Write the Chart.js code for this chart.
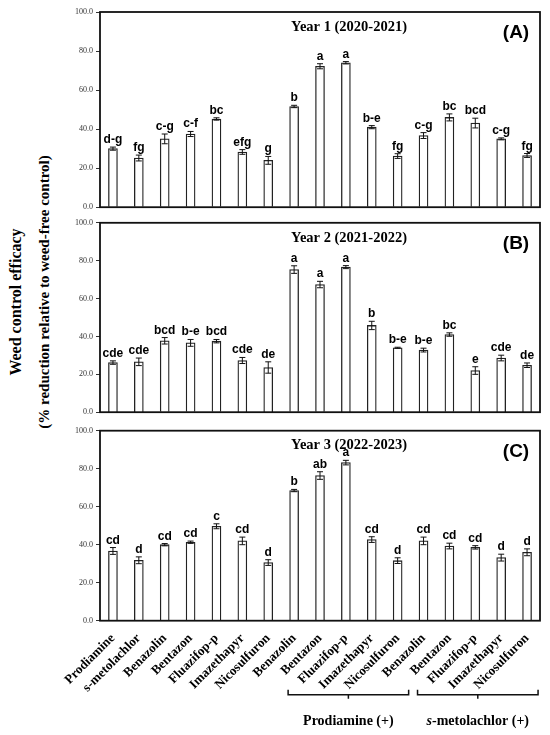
<!DOCTYPE html>
<html>
<head>
<meta charset="utf-8">
<script src="https://cdn.jsdelivr.net/npm/chart.js@4.4.1/dist/chart.umd.min.js"></script>
<style>
  html, body { margin: 0; padding: 0; background: #fff; }
  #wrap { position: relative; width: 550px; height: 735px; overflow: hidden; }
  .panel { position: absolute; left: 60px; width: 490px; }
  #yTitle {
    position: absolute; left: 30px; top: 300px; width: 0; height: 0;
  }
  #yTitle div {
    position: absolute; white-space: nowrap; transform: translate(-50%, -50%) rotate(-90deg);
    font-family: "Liberation Serif", "Times New Roman", serif; font-weight: bold; color: #000;
  }
</style>
</head>
<body>
<div id="wrap">
  <div id="yTitle">
    <div style="left:-14px; top:2px; font-size:16px;">Weed control efficacy</div>
    <div style="left:14px; top:-8px; font-size:15px;">(% reduction relative to weed-free control)</div>
  </div>
  <div class="panel" style="top:0; height:215px;"><canvas id="chartA"></canvas></div>
  <div class="panel" style="top:215px; height:205px;"><canvas id="chartB"></canvas></div>
  <div class="panel" style="top:420px; height:315px;"><canvas id="chartC"></canvas></div>
</div>
<script>
const herbicides = ['Prodiamine', 's-metolachlor', 'Benazolin', 'Bentazon', 'Fluazifop-p', 'Imazethapyr', 'Nicosulfuron',
  'Benazolin', 'Bentazon', 'Fluazifop-p', 'Imazethapyr', 'Nicosulfuron',
  'Benazolin', 'Bentazon', 'Fluazifop-p', 'Imazethapyr', 'Nicosulfuron'];
const yTicks = [0, 20, 40, 60, 80, 100];

// Year 1 (2020-2021)
const year1 = [30.0, 25.2, 35.0, 37.5, 45.2, 28.3, 24.0, 51.6, 72.2, 74.0, 41.0, 26.2, 36.7, 46.0, 43.1, 35.0, 26.5];
const year1Err = [0.8, 1.5, 2.5, 1.3, 0.6, 1.2, 2.0, 0.6, 1.3, 0.6, 0.8, 1.2, 1.5, 1.8, 2.5, 0.5, 1.0];
const year1Letters = ['d-g', 'fg', 'c-g', 'c-f', 'bc', 'efg', 'g', 'b', 'a', 'a', 'b-e', 'fg', 'c-g', 'bc', 'bcd', 'c-g', 'fg'];

// Year 2 (2021-2022)
const year2 = [26.2, 26.6, 37.7, 36.6, 37.5, 27.3, 23.6, 75.3, 67.4, 76.6, 45.8, 34.0, 32.8, 41.0, 22.0, 28.6, 24.8];
const year2Err = [0.9, 2.0, 1.7, 1.8, 0.9, 1.6, 3.0, 2.0, 1.7, 0.8, 2.2, 0.3, 1.0, 0.9, 2.0, 1.5, 1.2];
const year2Letters = ['cde', 'cde', 'bcd', 'b-e', 'bcd', 'cde', 'de', 'a', 'a', 'a', 'b', 'b-e', 'b-e', 'bc', 'e', 'cde', 'de'];

// Year 3 (2022-2023)
const year3 = [36.7, 31.8, 40.0, 41.3, 49.7, 42.0, 30.6, 68.5, 76.4, 83.2, 42.7, 31.6, 42.0, 39.3, 38.6, 33.2, 36.0];
const year3Err = [1.8, 1.8, 0.6, 0.6, 1.3, 2.0, 1.5, 0.6, 2.0, 1.2, 1.5, 1.5, 2.0, 1.5, 0.9, 1.8, 1.8];
const year3Letters = ['cd', 'd', 'cd', 'cd', 'c', 'cd', 'd', 'b', 'ab', 'a', 'cd', 'd', 'cd', 'cd', 'cd', 'd', 'd'];

// mixture groups: [first index, last index, label prefix (italic), label rest]
const groups = [
  { from: 7, to: 11, italic: '', text: 'Prodiamine (+)' },
  { from: 12, to: 16, italic: 's', text: '-metolachlor (+)' }
];

const serif = '"Liberation Serif", "Times New Roman", serif';
const sans = '"Liberation Sans", Arial, sans-serif';

// error bars, letters, frame and panel titles
const panelPlugin = {
  id: 'panelDecor',
  afterDatasetsDraw(chart) {
    const { ctx, chartArea: a, scales: { x, y } } = chart;
    const o = chart.options.plugins.panelDecor;
    ctx.save();
    ctx.strokeStyle = '#111';
    ctx.lineWidth = 1;
    o.values.forEach((v, i) => {
      const cx = x.getPixelForValue(i);
      const top = y.getPixelForValue(v + o.errors[i]);
      const bot = y.getPixelForValue(v - o.errors[i]);
      ctx.beginPath();
      ctx.moveTo(cx, top); ctx.lineTo(cx, bot);
      ctx.moveTo(cx - 3, top); ctx.lineTo(cx + 3, top);
      ctx.moveTo(cx - 3, bot); ctx.lineTo(cx + 3, bot);
      ctx.stroke();
      ctx.fillStyle = '#000';
      ctx.font = 'bold 12px ' + sans;
      ctx.textAlign = 'center';
      ctx.textBaseline = 'alphabetic';
      ctx.fillText(o.letters[i], cx, top - 4);
    });
    // frame
    ctx.lineWidth = 1.8;
    ctx.strokeStyle = '#111';
    ctx.strokeRect(a.left, a.top, a.right - a.left, a.bottom - a.top);
    // titles
    ctx.fillStyle = '#000';
    ctx.font = 'bold 14.5px ' + serif;
    ctx.textAlign = 'center';
    ctx.textBaseline = 'middle';
    ctx.fillText(o.title, 349 - 60, a.top + 15);
    ctx.font = 'bold 19px ' + sans;
    ctx.fillText(o.tag, 516 - 60, a.top + 21);
    ctx.restore();
  }
};

// brackets and mixture labels under the bottom panel
const groupPlugin = {
  id: 'groupDecor',
  afterDraw(chart) {
    if (!chart.options.plugins.groupDecor.show) return;
    const { ctx, chartArea: a, scales: { x } } = chart;
    ctx.save();
    ctx.strokeStyle = '#111';
    ctx.lineWidth = 1.5;
    const by = a.bottom + 74;
    groups.forEach(g => {
      const l = x.getPixelForValue(g.from) - 6;
      const r = x.getPixelForValue(g.to) + 11;
      const m = (l + r) / 2;
      ctx.beginPath();
      ctx.moveTo(l, by - 5); ctx.lineTo(l, by); ctx.lineTo(r, by); ctx.lineTo(r, by - 5);
      ctx.moveTo(m, by); ctx.lineTo(m, by + 4);
      ctx.stroke();
      ctx.fillStyle = '#000';
      ctx.textBaseline = 'middle';
      ctx.font = 'italic bold 14px ' + serif;
      const w1 = ctx.measureText(g.italic).width;
      ctx.font = 'bold 14px ' + serif;
      const w2 = ctx.measureText(g.text).width;
      let sx = m - (w1 + w2) / 2;
      const ty = a.bottom + 101;
      ctx.textAlign = 'left';
      if (g.italic) {
        ctx.font = 'italic bold 14px ' + serif;
        ctx.fillText(g.italic, sx, ty);
        sx += w1;
      }
      ctx.font = 'bold 14px ' + serif;
      ctx.fillText(g.text, sx, ty);
    });
    ctx.restore();
  }
};

function makePanel(id, values, errors, letters, title, tag, padTop, padBottom, bottomPanel) {
  return new Chart(document.getElementById(id), {
    type: 'bar',
    data: {
      labels: herbicides,
      datasets: [{
        data: values,
        backgroundColor: '#fff',
        borderColor: '#222',
        borderWidth: 1.3,
        barThickness: 9
      }]
    },
    options: {
      responsive: true,
      maintainAspectRatio: false,
      animation: false,
      layout: { padding: { top: padTop, bottom: padBottom, left: 0, right: 10 } },
      plugins: {
        legend: { display: false },
        tooltip: { enabled: false },
        panelDecor: { values, errors, letters, title, tag },
        groupDecor: { show: bottomPanel }
      },
      scales: {
        x: {
          display: bottomPanel,
          grid: { display: false },
          border: { display: false },
          ticks: {
            autoSkip: false,
            maxRotation: 45,
            minRotation: 45,
            padding: 2,
            color: '#000',
            font: { family: serif, weight: 'bold', size: 13 }
          },
          afterFit(scale) { if (bottomPanel) scale.height = 114.3; }
        },
        y: {
          min: 0,
          max: 100,
          afterBuildTicks(scale) { scale.ticks = yTicks.map(v => ({ value: v })); },
          grid: { display: true, drawOnChartArea: false, drawTicks: true, tickLength: 4, color: '#333' },
          border: { display: false },
          ticks: {
            padding: 3,
            color: '#333',
            font: { family: serif, size: 8 },
            callback: v => v.toFixed(1)
          },
          afterFit(scale) { scale.width = 40; }
        }
      }
    },
    plugins: [panelPlugin, groupPlugin]
  });
}

makePanel('chartA', year1, year1Err, year1Letters, 'Year 1 (2020-2021)', '(A)', 12, 6, false);
makePanel('chartB', year2, year2Err, year2Letters, 'Year 2 (2021-2022)', '(B)', 7.7, 5.3, false);
makePanel('chartC', year3, year3Err, year3Letters, 'Year 3 (2022-2023)', '(C)', 10.7, 0, true);
</script>
</body>
</html>
